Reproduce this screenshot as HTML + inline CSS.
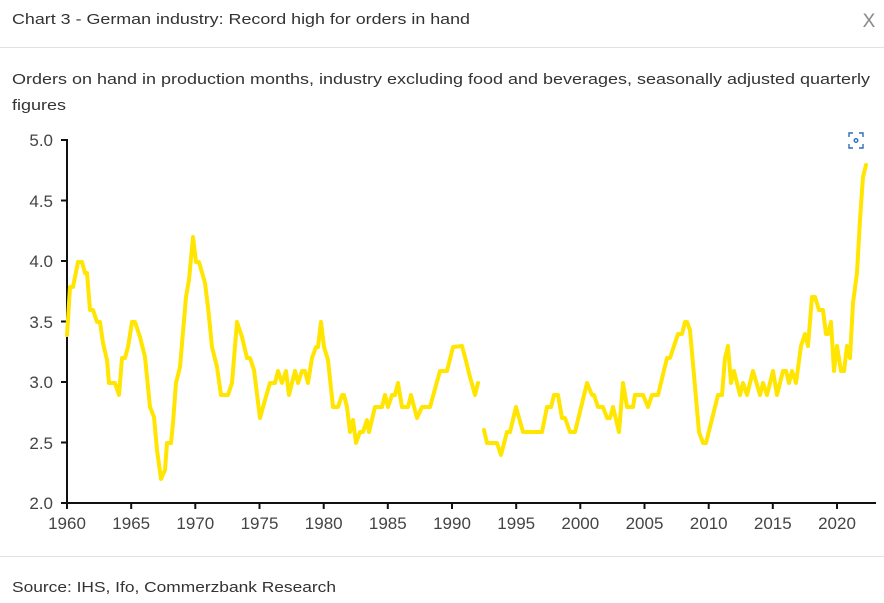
<!DOCTYPE html>
<html><head><meta charset="utf-8"><style>html,body{margin:0;padding:0;background:#fff;}svg{display:block;}</style></head>
<body>
<svg width="884" height="603" xmlns="http://www.w3.org/2000/svg" font-family="Liberation Sans, sans-serif">
<rect width="884" height="603" fill="#fff"/>
<text x="12" y="24" font-size="15" fill="#333" textLength="458" lengthAdjust="spacingAndGlyphs">Chart 3 - German industry: Record high for orders in hand</text>
<text x="869" y="27" font-size="19" fill="#888" text-anchor="middle">X</text>
<line x1="0" y1="47.5" x2="884" y2="47.5" stroke="#e2e2e2" stroke-width="1"/>
<text x="12" y="84" font-size="15" fill="#333" textLength="858" lengthAdjust="spacingAndGlyphs">Orders on hand in production months, industry excluding food and beverages, seasonally adjusted quarterly</text>
<text x="12" y="110" font-size="15" fill="#333" textLength="54" lengthAdjust="spacingAndGlyphs">figures</text>
<g font-size="17" fill="#444" text-anchor="end">
<text x="53" y="146">5.0</text><text x="53" y="207">4.5</text><text x="53" y="267">4.0</text>
<text x="53" y="328">3.5</text><text x="53" y="388">3.0</text><text x="53" y="449">2.5</text><text x="53" y="509">2.0</text>
</g>
<g stroke="#111" stroke-width="2">
<line x1="67" y1="139" x2="67" y2="504"/>
<line x1="66" y1="503" x2="876" y2="503"/>
<line x1="61" y1="140" x2="67" y2="140"/><line x1="61" y1="200.5" x2="67" y2="200.5"/><line x1="61" y1="261" x2="67" y2="261"/><line x1="61" y1="321.5" x2="67" y2="321.5"/><line x1="61" y1="382" x2="67" y2="382"/><line x1="61" y1="442.5" x2="67" y2="442.5"/><line x1="61" y1="503" x2="67" y2="503"/>
<line x1="67" y1="503" x2="67" y2="509"/><line x1="131.2" y1="503" x2="131.2" y2="509"/><line x1="195.3" y1="503" x2="195.3" y2="509"/><line x1="259.5" y1="503" x2="259.5" y2="509"/><line x1="323.7" y1="503" x2="323.7" y2="509"/><line x1="387.8" y1="503" x2="387.8" y2="509"/><line x1="452" y1="503" x2="452" y2="509"/><line x1="516.2" y1="503" x2="516.2" y2="509"/><line x1="580.3" y1="503" x2="580.3" y2="509"/><line x1="644.5" y1="503" x2="644.5" y2="509"/><line x1="708.7" y1="503" x2="708.7" y2="509"/><line x1="772.8" y1="503" x2="772.8" y2="509"/><line x1="837" y1="503" x2="837" y2="509"/>
</g>
<g font-size="17" fill="#444" text-anchor="middle">
<text x="67" y="529">1960</text><text x="131.2" y="529">1965</text><text x="195.3" y="529">1970</text><text x="259.5" y="529">1975</text><text x="323.7" y="529">1980</text><text x="387.8" y="529">1985</text><text x="452" y="529">1990</text><text x="516.2" y="529">1995</text><text x="580.3" y="529">2000</text><text x="644.5" y="529">2005</text><text x="708.7" y="529">2010</text><text x="772.8" y="529">2015</text><text x="837" y="529">2020</text>
</g>
<g fill="none" stroke="#FFE500" stroke-width="4" stroke-linejoin="round" stroke-linecap="round">
<polyline points="67,335 70,287 73,287 78,262 82,262 85,273 87,273 90,310 93,310 97,322 100,322 103,343 107,360 109,383 115,383 119,395 122,358 125,358 128,347 132,322 135,322 140,337 145,357 150,407 154,417 157,450 161,479 165,470 167,443 171,443 173,423 176,383 180,367 186,297 189,280 193,237 196,262 199,262 205,283 208,307 212,347 217,367 221,395 228,395 232,383 237,322 242,337 247,358 250,358 254,370 260,418 265,400 270,383 275,383 278,371 282,383 286,371 289,395 295,371 298,383 302,371 305,371 308,383 312,358 316,347 318,347 321,322 324,347 328,360 333,407 338,407 342,395 344,395 347,407 350,432 353,420 356,443 360,432 363,432 367,420 369,432 375,407 382,407 385,395 388,407 392,395 395,395 398,383 402,407 408,407 411,395 417,418 422,407 430,407 440,371 447,371 453,347 462,346 465,357 470,377 475,395 478,383"/>
<polyline points="484,430 487,443 497,443 501,455 507,432 510,432 516,407 523,432 542,432 547,407 551,407 554,395 558,395 562,418 565,418 570,432 575,432 587,383 592,395 594,395 598,407 603,407 607,418 610,418 613,407 619,432 623,383 627,407 633,407 635,395 643,395 648,407 652,395 658,395 667,358 670,358 678,334 682,334 685,322 687,322 690,330 699,432 703,443 706,443 718,395 722,395 725,358 728,346 731,383 734,371 740,395 743,383 747,395 753,371 760,395 763,383 767,395 773,371 777,395 783,371 786,371 789,383 792,371 796,383 801,346 805,334 808,346 812,297 815,297 819,310 823,310 826,334 828,334 831,322 834,371 837,346 841,371 844,371 847,346 850,358 853,303 857,273 860,220 863,177 866,165"/>
</g>
<g fill="none" stroke="#2a6fb8" stroke-width="1.4">
<path d="M849,137 v-4 h4 M859,133 h4 v4 M863,144 v4 h-4 M853,148 h-4 v-4"/>
<circle cx="856" cy="140.5" r="1.8"/>
</g>
<line x1="0" y1="556.5" x2="884" y2="556.5" stroke="#e2e2e2" stroke-width="1"/>
<text x="12" y="592" font-size="15" fill="#333" textLength="324" lengthAdjust="spacingAndGlyphs">Source: IHS, Ifo, Commerzbank Research</text>
</svg>
</body></html>
